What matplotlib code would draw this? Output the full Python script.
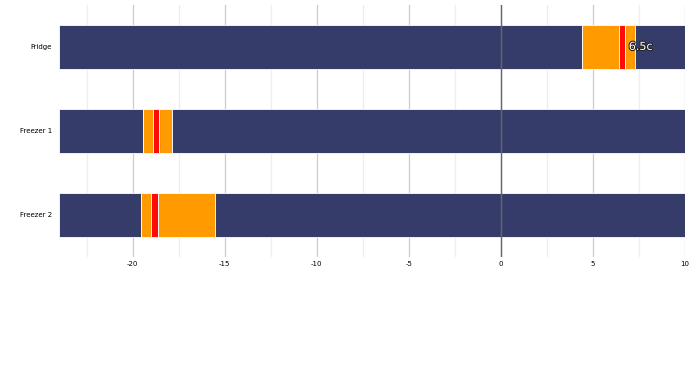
import matplotlib.pyplot as plt
import matplotlib.patheffects as pe
import numpy as np

categories = ["Fridge", "Freezer 1", "Freezer 2"]
# segment edges (degrees C) for each bar, left to right
fridge_edges = [-24, 4.43, 6.43, 6.73, 7.3, 10]
freezer1_edges = [-24, -19.42, -18.88, -18.57, -17.84, 10]
freezer2_edges = [-24, -19.53, -18.98, -18.64, -15.53, 10]
segment_kinds = ["base", "warn", "now", "warn", "base"]
current_label = "6.5c"
current_value = 7.6
xticks = [-20, -15, -10, -5, 0, 5, 10]

colors = {"base": "#363c69", "warn": "#ff9b00", "now": "#ff0a0a"}

fig = plt.figure(figsize=(6.9, 3.79), dpi=100)
ax = fig.add_axes([0.0855, 0.322, 0.907, 0.665])

for i, edges in enumerate([fridge_edges, freezer1_edges, freezer2_edges]):
    e = np.array(edges)
    ax.barh([i] * len(segment_kinds), np.diff(e), left=e[:-1], height=0.52,
            color=[colors[k] for k in segment_kinds],
            edgecolor="#ffffff", linewidth=0.6, zorder=2)

ax.text(current_value, 0, current_label, color="white", fontsize=8,
        ha="center", va="center", zorder=5,
        path_effects=[pe.withStroke(linewidth=1.5, foreground="#222222")])

ax.set_xlim(-24, 10)
ax.set_ylim(2.5, -0.5)
ax.set_yticks(range(len(categories)))
ax.set_yticklabels(categories, fontsize=5)
ax.set_xticks(xticks)
ax.set_xticklabels([str(t) for t in xticks], fontsize=5)
ax.set_xticks(np.arange(-22.5, 10, 5), minor=True)
ax.tick_params(which="both", length=0)
ax.tick_params(axis="x", pad=3)
ax.tick_params(axis="y", pad=5)
for s in ax.spines.values():
    s.set_visible(False)

ax.grid(axis="x", which="major", color="#cccccc", linewidth=0.9, zorder=0)
ax.grid(axis="x", which="minor", color="#eeeeee", linewidth=0.9, zorder=0)
ax.set_axisbelow(True)
ax.axvline(0, color="#666666", linewidth=1, zorder=4)

plt.savefig("out.png")
